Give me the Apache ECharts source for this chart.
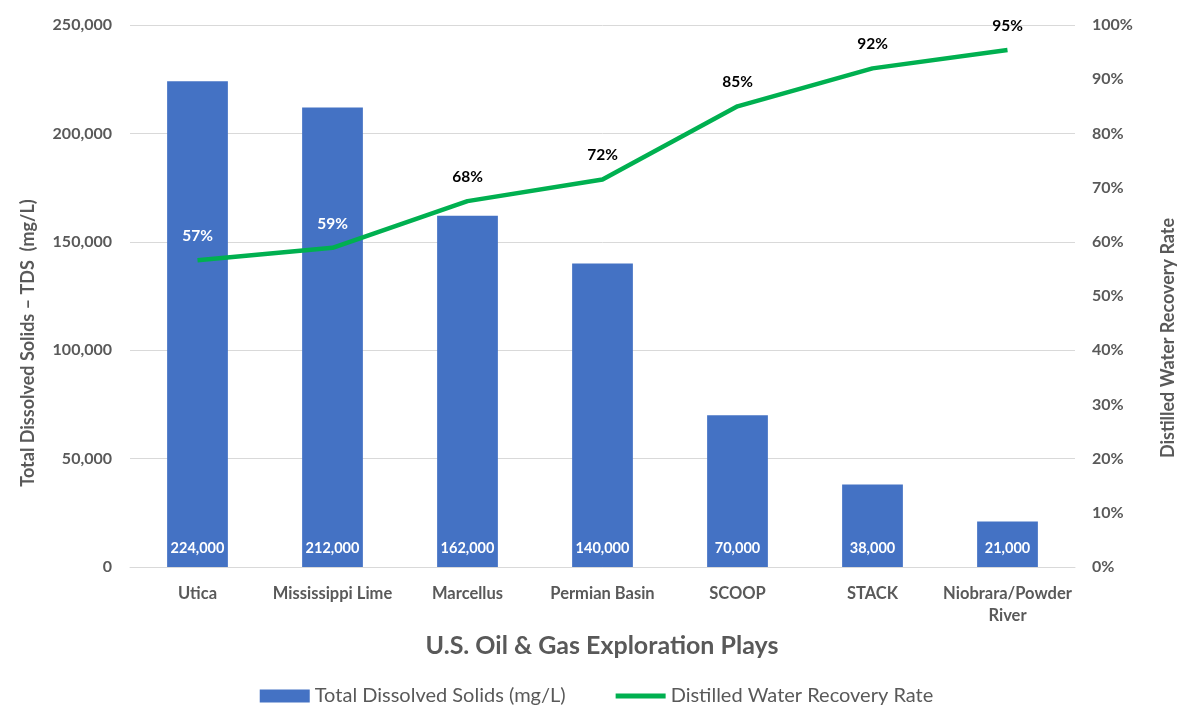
<!DOCTYPE html>
<html><head><meta charset="utf-8">
<script src="https://cdn.jsdelivr.net/npm/echarts@6/dist/echarts.min.js"></script>
<style>html,body{margin:0;padding:0;background:#fff}#c{width:1193px;height:720px}</style>
</head><body><div id="c"></div>
<script>
const categories = ['Utica','Mississippi Lime','Marcellus','Permian Basin','SCOOP','STACK','Niobrara/Powder\nRiver'];
const tdsValues = [224000, 212000, 162000, 140000, 70000, 38000, 21000];
const recoveryValues = [56.6, 58.9, 67.5, 71.5, 85, 92, 95.4];
const recoveryLabelColors = ['#ffffff','#ffffff','#000000','#000000','#000000','#000000','#000000'];
const leftAxisTitle = 'Total Dissolved Solids – TDS  (mg/L)';
const rightAxisTitle = 'Distilled Water Recovery Rate';
const xAxisTitle = 'U.S. Oil & Gas Exploration Plays';
const FONT = 'Lato, "Open Sans", sans-serif';
const GREY = '#595959';
const chart = echarts.init(document.getElementById('c'));
chart.setOption({
  animation:false,
  textStyle:{fontFamily:FONT},
  grid:{left:130,right:118,top:25,bottom:153},
  graphic:[
    {type:'text', x:28, y:343, rotation:Math.PI/2,
      style:{text:leftAxisTitle, fill:GREY, font:'bold 18px '+FONT, textAlign:'center', textVerticalAlign:'middle'}},
    {type:'text', x:1168, y:338, rotation:Math.PI/2,
      style:{text:rightAxisTitle, fill:GREY, font:'bold 18px '+FONT, textAlign:'center', textVerticalAlign:'middle'}},
    {type:'text', x:602, y:646,
      style:{text:xAxisTitle, fill:GREY, font:'bold 25px '+FONT, textAlign:'center', textVerticalAlign:'middle'}}
  ],
  legend:{
    top:681, left:'center', itemGap:50, itemWidth:50, itemHeight:13,
    textStyle:{fontSize:20,color:GREY,fontFamily:FONT},
    data:[
      {name:'Total Dissolved Solids (mg/L)',icon:'rect'},
      {name:'Distilled Water Recovery Rate',icon:'path://M0,0 L50,0 L50,5 L0,5 Z',itemStyle:{color:'#00B050'}}
    ]
  },
  xAxis:{
    type:'category', data:categories,
    axisLine:{lineStyle:{color:'#d9d9d9'}}, axisTick:{show:false},
    axisLabel:{fontSize:16.5,fontWeight:'bold',color:GREY,margin:16,lineHeight:22,interval:0}
  },
  yAxis:[{
    type:'value', min:0, max:250000, interval:50000,
    axisLabel:{fontSize:16,fontWeight:'bold',color:GREY,margin:18,
      formatter:v=>v.toLocaleString('en-US')},
    splitLine:{lineStyle:{color:'#d9d9d9',width:1}}, axisLine:{show:false}, axisTick:{show:false}
  },{
    type:'value', min:0, max:100, interval:10,
    axisLabel:{fontSize:16,fontWeight:'bold',color:GREY,margin:17,formatter:'{value}%'},
    splitLine:{show:false}, axisLine:{show:false}, axisTick:{show:false}
  }],
  series:[{
    name:'Total Dissolved Solids (mg/L)', type:'bar', data:tdsValues, barWidth:'45%',
    itemStyle:{color:'#4472C4'},
    label:{show:true, position:'insideBottom', distance:11, color:'#fff', fontSize:14.5, fontWeight:'bold',
      formatter:p=>p.value.toLocaleString('en-US')}
  },{
    name:'Distilled Water Recovery Rate', type:'line', yAxisIndex:1,
    data:recoveryValues.map((v,i)=>({value:v,label:{color:recoveryLabelColors[i]}})),
    symbol:'circle', symbolSize:0.01, showSymbol:true,
    lineStyle:{color:'#00B050',width:4.5}, itemStyle:{color:'#00B050'},
    label:{show:true, position:'top', distance:16, fontSize:15.5, fontWeight:'bold',
      formatter:p=>Math.round(p.value)+'%'}
  }]
});
</script></body></html>
